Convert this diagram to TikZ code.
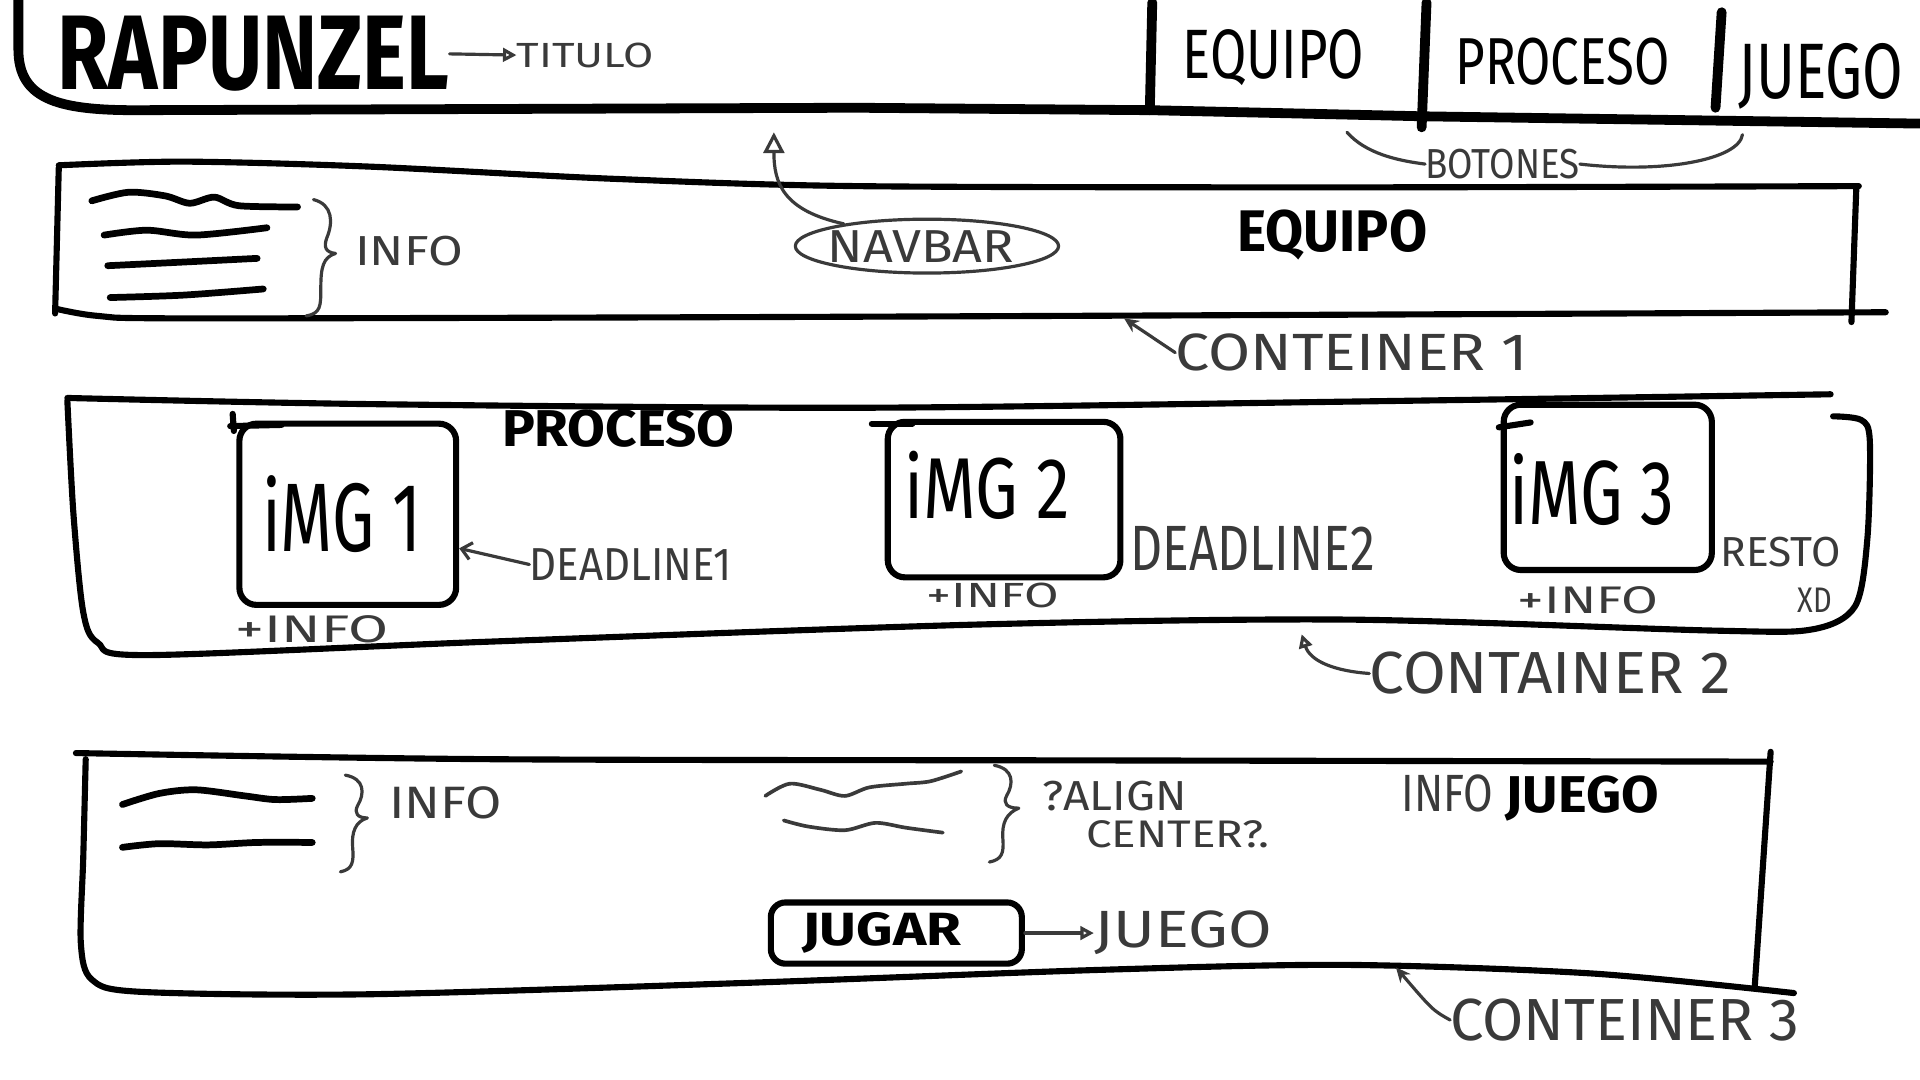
\documentclass[tikz,border=0pt]{standalone}
\usepackage{fontspec}
\setmainfont{Fira Sans}
\usepackage{graphicx}
\usetikzlibrary{arrows.meta,shapes.geometric}
\newcommand{\fitt}[3]{\resizebox{#1pt}{#2pt}{#3}}
\definecolor{pencil}{HTML}{3A3A3A}
\tikzset{
 hdr/.style={line width=8pt, line cap=round, line join=round},
 boxline/.style={line width=5pt, line cap=round, line join=round},
 infoline/.style={line width=5.5pt, line cap=round},
 ann/.style={draw=pencil, line width=2.6pt, line cap=round, line join=round},
 lbl/.style={inner sep=0pt, text=pencil},
 txt/.style={inner sep=0pt, text=black},
 blk/.style={inner sep=0pt, text=black, font=\bfseries},
 imgbox/.style={draw, line width=5pt, rounded corners=14pt, inner sep=0pt},
 opentip/.style={-{Triangle[open,length=#1,width=#1]}},
}
\begin{document}
\begin{tikzpicture}[x=1pt,y=-1pt]
\useasboundingbox (0,0) rectangle (1568,882);
\fill[white] (0,0) rectangle (1568,882);

% ---------- header ----------
\draw[hdr] (15,0) -- (15,40) .. controls (15,80) and (45,90) .. (110,90) -- (700,88) -- (940,90) -- (1163,95) -- (1572,101);
\draw[hdr] (941,2) -- (939,90);
\draw[hdr] (1165,2) -- (1161,104);
\draw[hdr] (1406,10) -- (1401,88);

\node[blk] (title) at (207,44) {\fitt{320}{60}{RAPUNZEL}};
\node[lbl] (titulo) at (478,45) {\fitt{112}{20}{TITULO}};
\draw[ann, opentip=11pt] (title.east) -- (titulo.west);

\node[txt] (bEquipo) at (1040,47) {\fitt{148}{40}{EQUIPO}};
\node[txt] (bProceso) at (1276,50) {\fitt{175}{38}{PROCESO}};
\node[txt] (bJuego) at (1487,62) {\fitt{135}{45}{JUEGO}};

\node[lbl] (botones) at (1227,134) {\fitt{126}{24}{BOTONES}};
\coordinate (botL) at (1100,108);
\coordinate (botR) at (1423,110);
\draw[ann] (botL) .. controls (1115,125) and (1140,131) .. (botones.west);
\draw[ann] (botones.east) .. controls (1360,142) and (1420,130) .. (botR);

% ---------- container 1 ----------
\draw[boxline] plot[smooth, tension=0.5] coordinates {(48,135) (150,132) (300,136) (500,146) (700,152) (1100,153) (1518,152)};
\draw[boxline] (48,137) -- (45,256);
\draw[boxline] plot[smooth, tension=0.5] coordinates {(45,252) (80,258) (150,260) (600,259) (1100,257) (1540,255)};
\draw[boxline] (1516,153) -- (1512,263);

\draw[infoline] plot[smooth] coordinates {(75,164) (105,157) (135,160) (155,166) (175,161) (195,168) (243,169)};
\draw[infoline] plot[smooth] coordinates {(85,192) (120,188) (160,192) (218,186)};
\draw[infoline] plot[smooth] coordinates {(88,217) (150,214) (210,211)};
\draw[infoline] plot[smooth] coordinates {(90,243) (150,241) (215,236)};

\draw[ann] (256,163) .. controls (272,167) and (272,182) .. (267,194) .. controls (264,202) and (266,206) .. (274,207)
  .. controls (264,210) and (262,218) .. (262,235) .. controls (262,250) and (262,256) .. (250,258);
\node[lbl] (info1) at (334,205) {\fitt{88}{24}{INFO}};

\node[ellipse, ann, minimum width=215pt, minimum height=44pt, inner sep=0pt] (navbar) at (757,201) {};
\node[lbl] (navtext) at (752,201) {\fitt{152}{26}{NAVBAR}};
\coordinate (navtip) at (632,108);
\draw[ann, opentip=17pt] (navbar.165) .. controls (640,172) and (632,150) .. (navtip);

\node[blk] (c1title) at (1088,192) {\fitt{155}{34}{EQUIPO}};

\node[lbl] (c1lbl) at (1104,288) {\fitt{288}{30}{CONTEINER 1}};
\coordinate (c1tip) at (918,260);
\draw[ann, -{Stealth[length=12pt,width=11pt]}] (c1lbl.west) -- (c1tip);

% ---------- container 2 ----------
\draw[boxline] plot[smooth, tension=0.5] coordinates {(55,325) (300,330) (700,333) (1100,328) (1495,322)};
\draw[boxline] plot[smooth, tension=0.5] coordinates {(55,327) (60,420) (68,500) (80,525) (120,535) (400,524) (800,510) (1100,506) (1400,515) (1480,514) (1515,495) (1525,440) (1527,360) (1520,343) (1497,340)};

\node[imgbox, minimum width=177pt, minimum height=148pt] (img1) at (284,420) {};
\draw[boxline] (188,348) -- (230,347);
\draw[boxline] (190,338) -- (191,352);
\node[txt] (img1t) at (279,420) {\fitt{130}{62}{iMG 1}};
\node[lbl] (plus1) at (255,514) {\fitt{125}{22}{+INFO}};
\node[lbl] (dl1) at (515,461) {\fitt{165}{26}{DEADLINE1}};
\draw[ann, -{Straight Barb[length=8pt,width=14pt]}] (dl1.west) -- (img1.-17);
\node[blk] (c2title) at (505,350) {\fitt{190}{30}{PROCESO}};

\node[imgbox, minimum width=190pt, minimum height=127pt] (img2) at (820,408) {};
\draw[boxline] (712,346) -- (745,346);
\node[txt] (img2t) at (806,396) {\fitt{135}{55}{iMG 2}};
\node[lbl] (plus2) at (811,486) {\fitt{108}{20}{+INFO}};
\node[lbl] (dl2) at (1023,448) {\fitt{200}{36}{DEADLINE2}};

\node[imgbox, minimum width=170pt, minimum height=135pt] (img3) at (1313,398) {};
\draw[boxline] (1224,349) -- (1250,345);
\node[txt] (img3t) at (1300,400) {\fitt{135}{58}{iMG 3}};
\node[lbl] (plus3) at (1297,490) {\fitt{115}{22}{+INFO}};
\node[lbl] (resto) at (1454,451) {\fitt{98}{24}{RESTO}};
\node[lbl] (xd) at (1482,490) {\fitt{28}{20}{XD}};

\node[lbl] (c2lbl) at (1266,550) {\fitt{295}{34}{CONTAINER 2}};
\coordinate (c2tip) at (1063,518);
\draw[ann, opentip=11pt] (c2lbl.west) .. controls (1090,548) and (1070,540) .. (c2tip);

% ---------- container 3 ----------
\draw[boxline] plot[smooth, tension=0.5] coordinates {(62,615) (400,620) (900,621) (1446,622)};
\draw[boxline] (1446,614) -- (1433,806);
\draw[boxline] plot[smooth, tension=0.5] coordinates {(70,620) (68,700) (66,770) (75,800) (115,810) (300,812) (600,803) (900,792) (1100,788) (1300,795) (1465,811)};

\draw[infoline] plot[smooth] coordinates {(100,657) (130,648) (160,645) (200,650) (225,653) (255,652)};
\draw[infoline] plot[smooth] coordinates {(100,692) (130,689) (170,690) (210,688) (255,688)};
\draw[ann] (282,633) .. controls (298,636) and (298,648) .. (292,658) .. controls (289,664) and (292,668) .. (300,668)
  .. controls (290,671) and (287,680) .. (288,692) .. controls (289,704) and (288,710) .. (278,712);
\node[lbl] (info3) at (364,656) {\fitt{92}{26}{INFO}};

\draw[ann, line width=3pt] plot[smooth] coordinates {(625,650) (645,640) (670,645) (690,650) (710,643) (740,640) (760,638) (785,630)};
\draw[ann, line width=3pt] plot[smooth] coordinates {(640,670) (660,675) (690,678) (715,672) (740,676) (770,680)};
\draw[ann] (812,625) .. controls (828,628) and (828,640) .. (822,650) .. controls (819,656) and (822,660) .. (832,660)
  .. controls (822,664) and (818,672) .. (819,685) .. controls (820,697) and (818,702) .. (808,704);
\node[lbl] (align) at (910,650) {\fitt{118}{24}{?ALIGN}};
\node[lbl] (center) at (962,681) {\fitt{150}{22}{CENTER?.}};

\node[lbl] (infoj) at (1182,648) {\fitt{75}{30}{INFO}};
\node[blk] (c3title) at (1292,652) {\fitt{125}{30}{JUEGO}};

\node[draw, line width=5pt, rounded corners=12pt, minimum width=205pt, minimum height=50pt, inner sep=0pt] (jugar) at (732,762) {};
\node[blk] (jugart) at (720,762) {\fitt{130}{27}{JUGAR}};
\node[lbl] (juego3) at (966,762) {\fitt{145}{30}{JUEGO}};
\draw[ann, opentip=11pt] (jugar.east) -- (juego3.west);

\node[lbl] (c3lbl) at (1327,833) {\fitt{285}{34}{CONTEINER 3}};
\coordinate (c3tip) at (1140,790);
\draw[ann, -{Stealth[length=12pt,width=11pt]}] (c3lbl.west) .. controls (1170,825) .. (c3tip);
\end{tikzpicture}
\end{document}
